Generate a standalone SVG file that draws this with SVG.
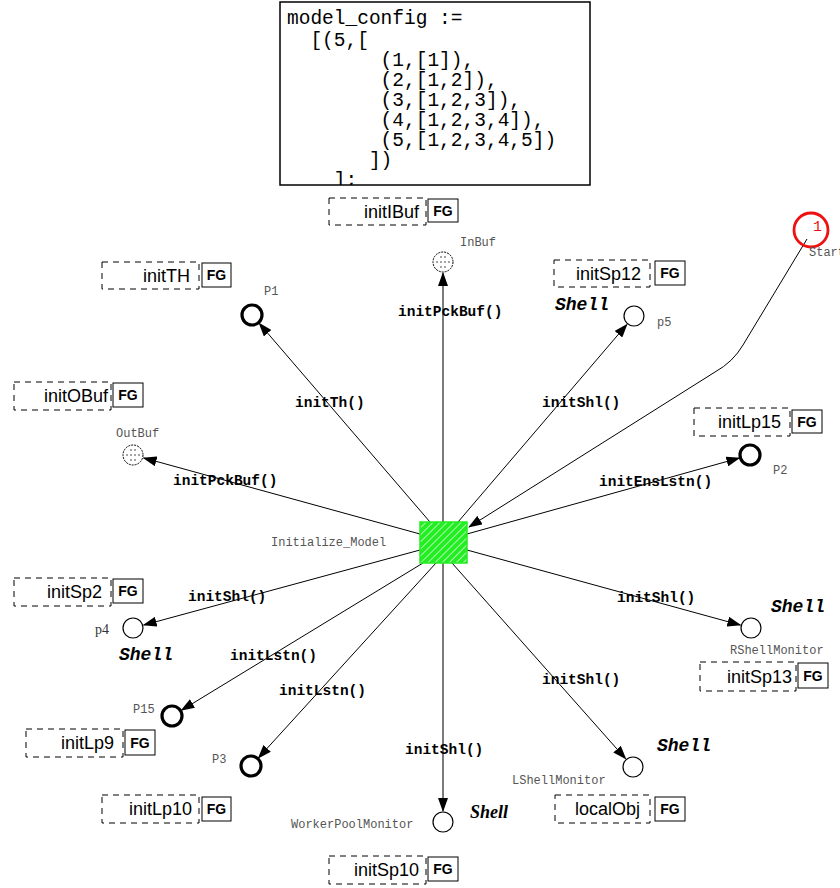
<svg xmlns="http://www.w3.org/2000/svg" width="840" height="888" viewBox="0 0 840 888">
  <style>
    .code { font-family: "Liberation Mono", monospace; font-size: 19.5px; fill: #000; }
    .tag { fill: none; stroke: #000; stroke-width: 1; stroke-dasharray: 6 5; }
    .tagtxt { font-family: "Liberation Sans", Arial, sans-serif; font-size: 18px; fill: #000; text-anchor: end; }
    .fg { fill: #fff; stroke: #000; stroke-width: 1; }
    .fgtxt { font-family: "Liberation Sans", Arial, sans-serif; font-size: 14px; font-weight: bold; fill: #000; text-anchor: middle; }
    .pl { fill: #fff; stroke: #000; stroke-width: 1.2; }
    .plb { fill: #fff; stroke: #000; stroke-width: 3.2; }
    .plbuf { fill: #fff; stroke: #000; stroke-width: 1; stroke-dasharray: 2 1; }
    .pname { font-family: "Liberation Mono", monospace; font-size: 12px; fill: #555; }
    .pserif { font-family: "Liberation Serif", serif; font-size: 14px; fill: #333; }
    .shell { font-family: "Liberation Mono", monospace; font-size: 18px; font-weight: bold; font-style: italic; fill: #000; }
    .shells { font-family: "Liberation Serif", serif; font-size: 18px; font-weight: bold; font-style: italic; fill: #000; }
    .arc { fill: none; stroke: #000; stroke-width: 1; marker-end: url(#ah); }
    .arcg { fill: none; stroke: #444; stroke-width: 1.4; marker-end: url(#ah); }
    .alab { font-family: "Liberation Mono", monospace; font-size: 14.5px; font-weight: bold; fill: #000; }
  </style>
  <defs>
    <marker id="ah" markerUnits="userSpaceOnUse" markerWidth="14" markerHeight="10" refX="13" refY="5" orient="auto">
      <path d="M0,0 L14,5 L0,10 Z" fill="#000"/>
    </marker>
    <pattern id="hatch" patternUnits="userSpaceOnUse" width="5" height="5" patternTransform="rotate(45)">
      <rect width="5" height="5" fill="#22ee22"/>
      <line x1="0" y1="0" x2="0" y2="5" stroke="#fff" stroke-width="1.3"/>
    </pattern>
    <clipPath id="codeclip">
      <rect x="280" y="2" width="310" height="183"/>
    </clipPath>
  </defs>

  <rect width="840" height="888" fill="#fff"/>

  <!-- declaration box -->
  <g id="decl">
    <rect x="280" y="2" width="310" height="183" fill="#fff" stroke="#000" stroke-width="1.5"/>
    <g clip-path="url(#codeclip)">
      <text class="code" x="287" y="24" xml:space="preserve">model_config :=</text>
      <text class="code" x="287" y="46" xml:space="preserve">  [(5,[</text>
      <text class="code" x="287" y="66" xml:space="preserve">        (1,[1]),</text>
      <text class="code" x="287" y="86" xml:space="preserve">        (2,[1,2]),</text>
      <text class="code" x="287" y="106" xml:space="preserve">        (3,[1,2,3]),</text>
      <text class="code" x="287" y="126" xml:space="preserve">        (4,[1,2,3,4]),</text>
      <text class="code" x="287" y="146" xml:space="preserve">        (5,[1,2,3,4,5])</text>
      <text class="code" x="287" y="166" xml:space="preserve">       ])</text>
      <text class="code" x="287" y="186" xml:space="preserve">    ];</text>
    </g>
  </g>

  <!-- connectors -->
  <g id="arcs">
    <line class="arcg" x1="443" y1="522" x2="443" y2="273"/>
    <line class="arc" x1="430" y1="522" x2="259.2" y2="323.3"/>
    <line class="arc" x1="458" y1="522" x2="626.9" y2="324.4"/>
    <line class="arc" x1="420" y1="534" x2="143.6" y2="457.9"/>
    <line class="arc" x1="467" y1="534" x2="739.4" y2="458"/>
    <line class="arc" x1="420" y1="550" x2="143.6" y2="625.1"/>
    <line class="arc" x1="467" y1="550" x2="740.4" y2="625.1"/>
    <line class="arc" x1="423" y1="563" x2="181.4" y2="710.3"/>
    <line class="arc" x1="436" y1="563" x2="258.4" y2="757.9"/>
    <line class="arcg" x1="443" y1="563" x2="443" y2="811"/>
    <line class="arc" x1="452" y1="563" x2="625.7" y2="758.8"/>
    <path class="arc" d="M807,239 L743,345 Q733,362 715,372 L469,527"/>

    <text class="alab" x="398" y="316">initPckBuf()</text>
    <text class="alab" x="295" y="407">initTh()</text>
    <text class="alab" x="542" y="407">initShl()</text>
    <text class="alab" x="173" y="485">initPckBuf()</text>
    <text class="alab" x="599" y="486">initEnsLstn()</text>
    <text class="alab" x="188" y="601">initShl()</text>
    <text class="alab" x="617" y="602">initShl()</text>
    <text class="alab" x="230" y="660">initLstn()</text>
    <text class="alab" x="279" y="695">initLstn()</text>
    <text class="alab" x="542" y="684">initShl()</text>
    <text class="alab" x="405" y="754">initShl()</text>
  </g>

  <!-- transition -->
  <g id="Initialize_Model">
    <rect x="420" y="522" width="47" height="41" fill="url(#hatch)" stroke="#22ee22" stroke-width="1.5"/>
    <text class="pname" x="271" y="546">Initialize_Model</text>
  </g>

  <!-- start place -->
  <g id="Start">
    <circle cx="811" cy="230" r="17" fill="none" stroke="#ee1111" stroke-width="2.8"/>
    <text x="813" y="231" font-family="Liberation Mono, monospace" font-size="15" fill="#ee1111">1</text>
    <text class="pname" x="809" y="256">Start</text>
  </g>

  <!-- places -->
  <g id="InBuf">
    <circle class="plbuf" cx="443" cy="262" r="10"/>
    <g fill="#333"><circle cx="441" cy="257" r="0.8"/><circle cx="445" cy="257" r="0.8"/><circle cx="441" cy="262" r="0.8"/><circle cx="445" cy="262" r="0.8"/><circle cx="441" cy="267" r="0.8"/><circle cx="445" cy="267" r="0.8"/><circle cx="437" cy="262" r="0.8"/><circle cx="449" cy="262" r="0.8"/></g>
    <text class="pname" x="460" y="246" font-size="11">InBuf</text>
  </g>
  <g id="P1">
    <circle class="plb" cx="252" cy="315" r="10"/>
    <text class="pname" x="264" y="295" font-size="11">P1</text>
  </g>
  <g id="p5">
    <circle class="pl" cx="634" cy="316" r="10"/>
    <text class="pname" x="657" y="326" font-size="11">p5</text>
    <text class="shell" x="555" y="310">Shell</text>
  </g>
  <g id="OutBuf">
    <circle class="plbuf" cx="133" cy="455" r="10"/>
    <g fill="#333"><circle cx="131" cy="450" r="0.8"/><circle cx="135" cy="450" r="0.8"/><circle cx="131" cy="455" r="0.8"/><circle cx="135" cy="455" r="0.8"/><circle cx="131" cy="460" r="0.8"/><circle cx="135" cy="460" r="0.8"/><circle cx="127" cy="455" r="0.8"/><circle cx="139" cy="455" r="0.8"/></g>
    <text class="pname" x="116" y="437" font-size="11">OutBuf</text>
  </g>
  <g id="P2">
    <circle class="plb" cx="750" cy="455" r="10"/>
    <text class="pname" x="773" y="474" font-size="11">P2</text>
  </g>
  <g id="p4">
    <circle class="pl" cx="133" cy="628" r="10"/>
    <text class="pserif" x="95" y="634">p4</text>
    <text class="shell" x="119" y="660">Shell</text>
  </g>
  <g id="RShellMonitor">
    <circle class="pl" cx="751" cy="628" r="10"/>
    <text class="pname" x="730" y="654">RShellMonitor</text>
    <text class="shell" x="771" y="612">Shell</text>
  </g>
  <g id="P15">
    <circle class="plb" cx="172" cy="716" r="10"/>
    <text class="pname" x="133" y="713" font-size="11">P15</text>
  </g>
  <g id="P3">
    <circle class="plb" cx="251" cy="766" r="10"/>
    <text class="pname" x="212" y="763" font-size="11">P3</text>
  </g>
  <g id="LShellMonitor">
    <circle class="pl" cx="633" cy="767" r="10"/>
    <text class="pname" x="512" y="784">LShellMonitor</text>
    <text class="shell" x="657" y="751">Shell</text>
  </g>
  <g id="WorkerPoolMonitor">
    <circle class="pl" cx="443" cy="822" r="10"/>
    <text class="pname" x="291" y="828">WorkerPoolMonitor</text>
    <text class="shells" x="470" y="818">Shell</text>
  </g>

  <!-- fusion tags -->
  <g id="tag-initIBuf">
    <rect class="tag" x="329" y="198" width="97" height="27"/>
    <text class="tagtxt" x="419" y="218">initIBuf</text>
    <rect class="fg" x="428" y="199" width="30" height="23"/>
    <text class="fgtxt" x="443" y="216">FG</text>
  </g>
  <g id="tag-initTH">
    <rect class="tag" x="102" y="262" width="97" height="27"/>
    <text class="tagtxt" x="190" y="282">initTH</text>
    <rect class="fg" x="202" y="263" width="29" height="24"/>
    <text class="fgtxt" x="216.5" y="280">FG</text>
  </g>
  <g id="tag-initSp12">
    <rect class="tag" x="554" y="260" width="96" height="27"/>
    <text class="tagtxt" x="641" y="280">initSp12</text>
    <rect class="fg" x="655" y="261" width="30" height="24"/>
    <text class="fgtxt" x="670" y="278">FG</text>
  </g>
  <g id="tag-initOBuf">
    <rect class="tag" x="14" y="382" width="97" height="28"/>
    <text class="tagtxt" x="108" y="402">initOBuf</text>
    <rect class="fg" x="113" y="383" width="30" height="24"/>
    <text class="fgtxt" x="128" y="400">FG</text>
  </g>
  <g id="tag-initLp15">
    <rect class="tag" x="694" y="408" width="96" height="28"/>
    <text class="tagtxt" x="781" y="428">initLp15</text>
    <rect class="fg" x="792" y="410" width="30" height="23"/>
    <text class="fgtxt" x="807" y="427">FG</text>
  </g>
  <g id="tag-initSp2">
    <rect class="tag" x="14" y="578" width="97" height="28"/>
    <text class="tagtxt" x="102" y="598">initSp2</text>
    <rect class="fg" x="113" y="579" width="30" height="24"/>
    <text class="fgtxt" x="128" y="596">FG</text>
  </g>
  <g id="tag-initSp13">
    <rect class="tag" x="700" y="662" width="96" height="29"/>
    <text class="tagtxt" x="792" y="683">initSp13</text>
    <rect class="fg" x="798" y="663" width="30" height="25"/>
    <text class="fgtxt" x="813" y="681">FG</text>
  </g>
  <g id="tag-initLp9">
    <rect class="tag" x="26" y="729" width="97" height="28"/>
    <text class="tagtxt" x="114" y="749">initLp9</text>
    <rect class="fg" x="125" y="730" width="30" height="25"/>
    <text class="fgtxt" x="140" y="748">FG</text>
  </g>
  <g id="tag-initLp10">
    <rect class="tag" x="102" y="795" width="97" height="28"/>
    <text class="tagtxt" x="192" y="815">initLp10</text>
    <rect class="fg" x="202" y="797" width="29" height="24"/>
    <text class="fgtxt" x="216.5" y="814">FG</text>
  </g>
  <g id="tag-localObj">
    <rect class="tag" x="555" y="795" width="95" height="28"/>
    <text class="tagtxt" x="640" y="815">localObj</text>
    <rect class="fg" x="655" y="797" width="30" height="24"/>
    <text class="fgtxt" x="670" y="814">FG</text>
  </g>
  <g id="tag-initSp10">
    <rect class="tag" x="329" y="856" width="97" height="28"/>
    <text class="tagtxt" x="419" y="876">initSp10</text>
    <rect class="fg" x="428" y="857" width="30" height="24"/>
    <text class="fgtxt" x="443" y="874">FG</text>
  </g>
</svg>
